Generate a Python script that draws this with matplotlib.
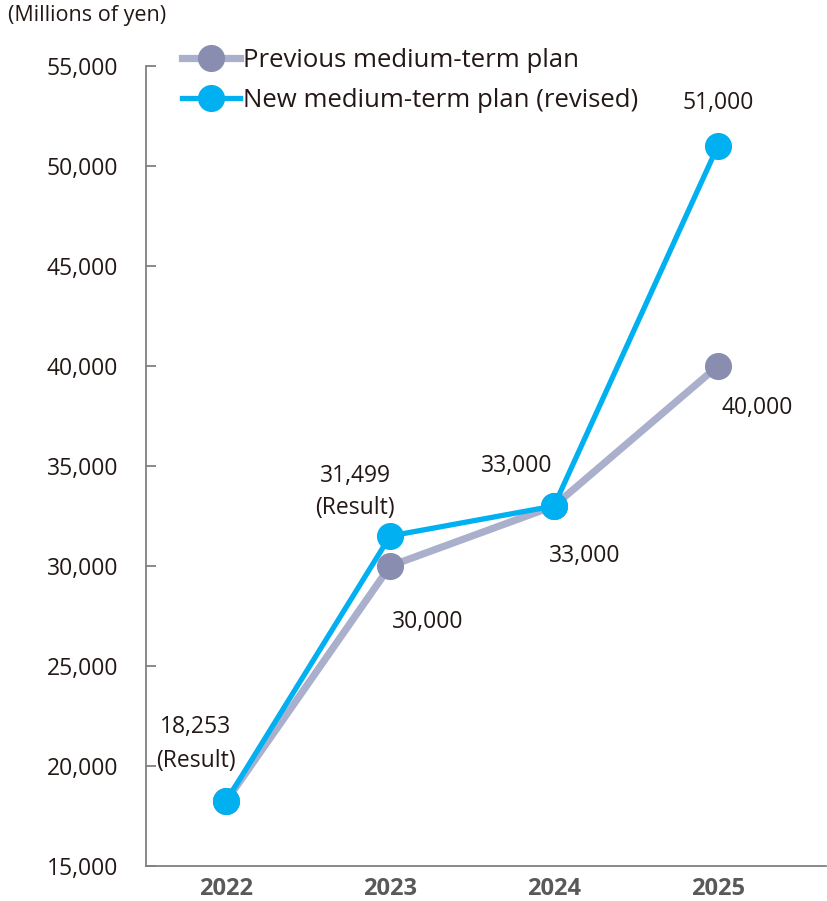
import matplotlib
matplotlib.use("Agg")
import matplotlib.pyplot as plt

plt.rcParams['font.family'] = ['Open Sans', 'DejaVu Sans']

years = ["2022", "2023", "2024", "2025"]
previous_plan = [18253, 30000, 33000, 40000]
new_plan = [18253, 31499, 33000, 51000]
series_names = ["Previous medium-term plan", "New medium-term plan (revised)"]
y_ticks = [15000, 20000, 25000, 30000, 35000, 40000, 45000, 50000, 55000]

prev_line = "#AAB0CC"
prev_marker = "#898DB0"
new_color = "#00B0F0"
text_color = "#231815"

fig = plt.figure(figsize=(8.28, 9.01), dpi=100)
ax = fig.add_axes([146/828, (901-866)/901, 680/828, 800/901])

x = list(range(len(years)))
ax.plot(x, previous_plan, color=prev_line, lw=5.2, marker='o', ms=18.5,
        mfc=prev_marker, mec=prev_marker, label=series_names[0], zorder=2)
ax.plot(x, new_plan, color=new_color, lw=3.8, marker='o', ms=18.5,
        mfc=new_color, mec=new_color, label=series_names[1], zorder=3)

ax.set_xlim(-0.49, 3.66)
ax.set_ylim(15000, 55000)
ax.set_yticks(y_ticks)
ax.set_yticklabels([f"{v:,}" for v in y_ticks])
ax.set_xticks(x)
ax.set_xticklabels(years, fontweight='bold', color='#595959')
ax.tick_params(axis='y', direction='in', length=7, width=1.3, color='#808080',
               labelsize=16.5, labelcolor=text_color, pad=20)
ax.tick_params(axis='x', length=0, labelsize=17, pad=8)
for s in ['top', 'right']:
    ax.spines[s].set_visible(False)
for s in ['left', 'bottom']:
    ax.spines[s].set_color('#808080')
    ax.spines[s].set_linewidth(1.3)

fs = 16.5
def lab(i, vals, text, dx, dy, ls=1.45):
    ax.annotate(text, (x[i], vals[i]), xytext=(dx, dy), textcoords='offset points',
                ha='center', va='center', fontsize=fs, color=text_color,
                linespacing=ls)

lab(0, new_plan, f"{new_plan[0]:,}\n(Result)", -22, 41, 1.55)
lab(1, new_plan, f"{new_plan[1]:,}\n(Result)", -25, 32, 1.45)
lab(1, previous_plan, f"{previous_plan[1]:,}", 27, -40)
lab(2, new_plan, f"{new_plan[2]:,}", -27, 29)
lab(2, previous_plan, f"{previous_plan[2]:,}", 22, -36)
lab(3, new_plan, f"{new_plan[3]:,}", 0, 31)
lab(3, previous_plan, f"{previous_plan[3]:,}", 28, -30)

leg = ax.legend(loc='upper left', bbox_to_anchor=(13/680, 1.052), frameon=False,
                fontsize=18.5, handlelength=2.25, handletextpad=0.12,
                labelspacing=0.62, labelcolor=text_color)

fig.text(8/828, 1 - 15/901, "(Millions of yen)", fontsize=15.5, color=text_color,
         ha='left', va='center')

fig.savefig("out.png", dpi=100)
